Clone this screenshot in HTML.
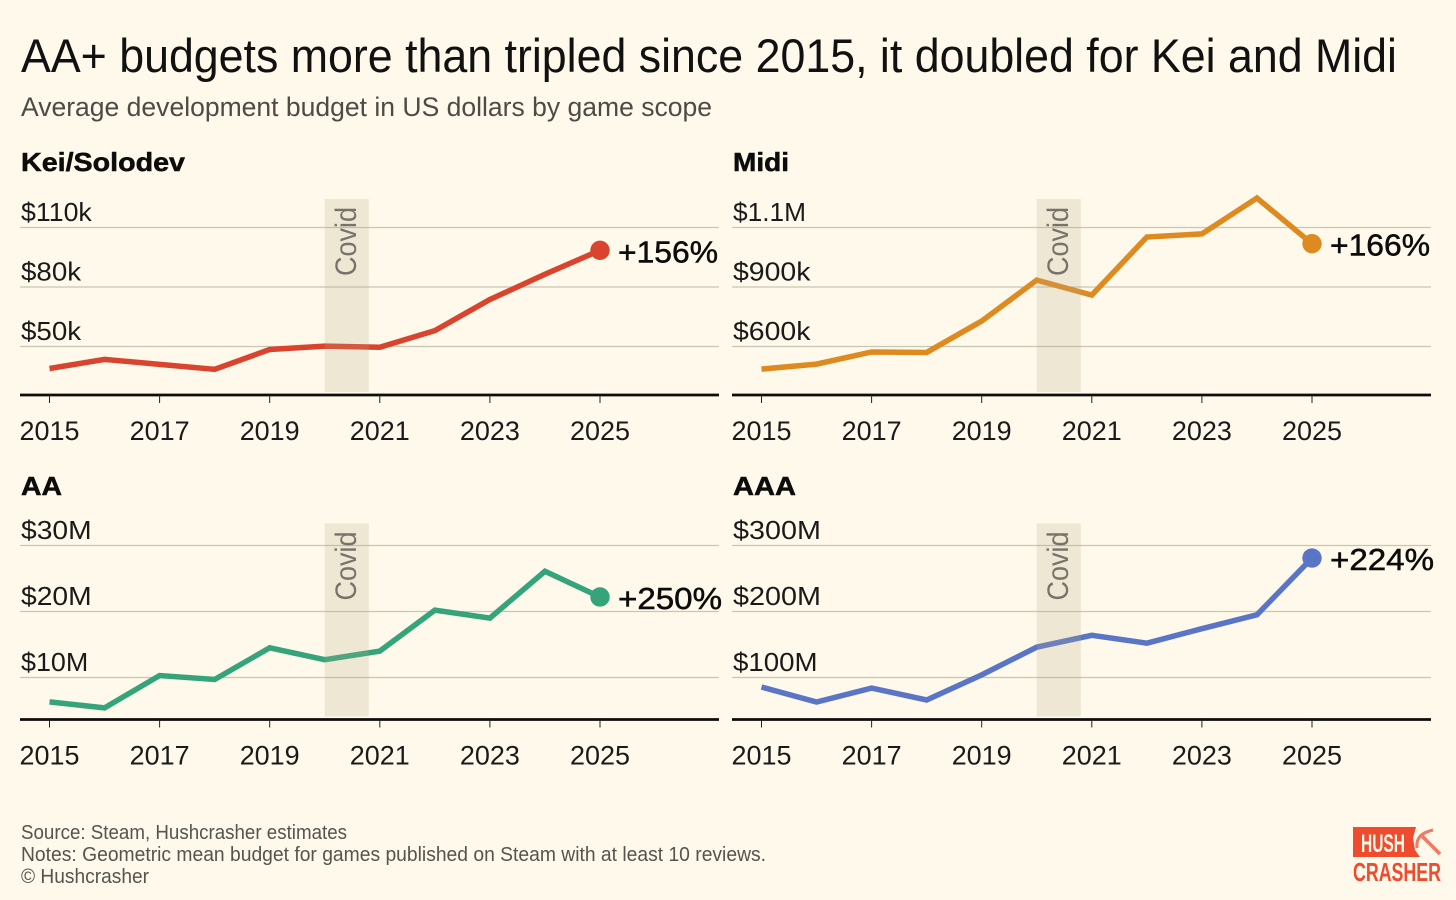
<!DOCTYPE html>
<html lang="en">
<head>
<meta charset="utf-8">
<title>AA+ budgets more than tripled since 2015</title>
<style>
html,body{margin:0;padding:0;background:#fef9ea;}
body{width:1456px;height:900px;overflow:hidden;}
svg{display:block;font-family:"Liberation Sans",sans-serif;}
</style>
</head>
<body>
<svg id="chart" xmlns="http://www.w3.org/2000/svg" width="1456" height="900" viewBox="0 0 1456 900">
  <rect x="0" y="0" width="1456" height="900" fill="#fef9ea"/>
  <text x="21" y="72" font-size="47" fill="#111" textLength="1376" lengthAdjust="spacingAndGlyphs">AA+ budgets more than tripled since 2015, it doubled for Kei and Midi</text>
  <text x="21" y="116" font-size="27" fill="#4c4b45" textLength="691" lengthAdjust="spacingAndGlyphs">Average development budget in US dollars by game scope</text>
  <g id="panels"></g>
  <text x="21" y="839" font-size="20" fill="#55544e" textLength="326" lengthAdjust="spacingAndGlyphs">Source: Steam, Hushcrasher estimates</text>
  <text x="21" y="861" font-size="20" fill="#55544e" textLength="745" lengthAdjust="spacingAndGlyphs">Notes: Geometric mean budget for games published on Steam with at least 10 reviews.</text>
  <text x="21" y="883" font-size="20" fill="#55544e" textLength="128" lengthAdjust="spacingAndGlyphs">© Hushcrasher</text>
  <g>
    <path d="M1353 827 H1416 L1413 838 L1415 850 L1420 857 H1353 Z" fill="#ef4b2e"/>
    <text x="1361" y="852" font-size="25" font-weight="700" fill="#fef9ea" textLength="44" lengthAdjust="spacingAndGlyphs">HUSH</text>
    <text x="1353" y="881" font-size="26" font-weight="700" fill="#ef4b2e" textLength="88" lengthAdjust="spacingAndGlyphs">CRASHER</text>
    <path d="M1422 836 L1440 854" stroke="#f07a62" stroke-width="3.5" fill="none"/>
    <path d="M1417 848 Q1415 834 1433 830" stroke="#f07a62" stroke-width="3" fill="none"/>
  </g>
</svg>
<script>
const years = [2015, 2016, 2017, 2018, 2019, 2020, 2021, 2022, 2023, 2024, 2025];
const axisYears = [2015, 2017, 2019, 2021, 2023, 2025];
const covidStart = 2020;
const covidEnd = 2020.8;

const keiValues = [38.9, 43.5, 41, 38.5, 48.5, 50.2, 49.6, 58, 73.7, 86.4, 98.5];
const midiValues = [505, 526, 577, 575, 707, 879, 816, 1060, 1073, 1224, 1032];
const aaValues = [6.3, 5.4, 10.3, 9.7, 14.5, 12.7, 14, 20.2, 19, 26.1, 22.2];
const aaaValues = [85.6, 62.9, 84, 66, 104, 146, 164, 152, 174, 195, 281];

const keiTicks = [50, 80, 110];
const midiTicks = [600, 850, 1100];
const aaTicks = [10, 20, 30];
const aaaTicks = [100, 200, 300];

const keiTickLabels = ['$50k', '$80k', '$110k'];
const midiTickLabels = ['$600k', '$900k', '$1.1M'];
const aaTickLabels = ['$10M', '$20M', '$30M'];
const aaaTickLabels = ['$100M', '$200M', '$300M'];

const panelTitles = ['Kei/Solodev', 'Midi', 'AA', 'AAA'];
const changeLabels = ['+156%', '+166%', '+250%', '+224%'];

const NS = 'http://www.w3.org/2000/svg';
const root = document.getElementById('panels');
const YEAR_STEP = 55.05;
const glyphWidths = {'$': 12.5, '1': 14, 'k': 13, 'M': 23.5, '.': 9};

function make(tag, attrs, parent) {
  const el = document.createElementNS(NS, tag);
  for (const key in attrs) el.setAttribute(key, attrs[key]);
  parent.appendChild(el);
  return el;
}
function labelWidth(label) {
  let w = 0;
  for (const ch of label) w += (ch in glyphWidths) ? glyphWidths[ch] : 17.3;
  return w;
}

function drawPanel(cfg) {
  const g = make('g', {}, root);
  
  

  const xScale = function (year) { return cfg.x0 + (year - years[0]) * YEAR_STEP; };
  const tickMin = cfg.ticks[0];
  const tickMax = cfg.ticks[cfg.ticks.length - 1];
  const yScale = function (v) {
    return cfg.gridTop + (tickMax - v) * (cfg.gridBottom - cfg.gridTop) / (tickMax - tickMin);
  };

  const title = make('text', {x: cfg.left + 1, y: cfg.titleY, 'font-size': 26, 'font-weight': 700, fill: '#0c0c0c', stroke: '#0c0c0c', 'stroke-width': 0.5, textLength: cfg.titleWidth, lengthAdjust: 'spacingAndGlyphs'}, g);
  title.textContent = cfg.title;
  
  

  cfg.ticks.forEach(function (tick, i) {
    const y = yScale(tick);
    const grid = make('line', {x1: cfg.left, x2: cfg.left + 699, y1: y, y2: y, stroke: '#c9c6b4', 'stroke-width': 1.2}, g);
    
    

    const label = make('text', {x: cfg.left + 1, y: y - cfg.labelGap, 'font-size': 26, fill: '#1a1a1a', textLength: labelWidth(cfg.tickLabels[i]), lengthAdjust: 'spacingAndGlyphs'}, g);
    label.textContent = cfg.tickLabels[i];
    
    
  });

  const points = cfg.values.map(function (v, i) { return xScale(years[i]) + ',' + yScale(v); }).join(' ');
  const line = make('polyline', {points: points, fill: 'none', stroke: cfg.color, 'stroke-width': 5.5, 'stroke-linejoin': 'miter'}, g);
  
  

  const band = make('rect', {x: xScale(covidStart), y: cfg.baseline - 196, width: xScale(covidEnd) - xScale(covidStart), height: 193, fill: '#b5a888', 'fill-opacity': 0.22}, g);
  
  

  const bandX = xScale(covidStart) + 31;
  const bandY = cfg.baseline - 119;
  const covid = make('text', {x: 0, y: 0, transform: 'translate(' + bandX + ' ' + bandY + ') rotate(-90)', 'font-size': 30, fill: '#77736a', textLength: 69, lengthAdjust: 'spacingAndGlyphs'}, g);
  covid.textContent = 'Covid';
  
  

  const axis = make('line', {x1: cfg.left, x2: cfg.left + 699, y1: cfg.baseline, y2: cfg.baseline, stroke: '#0d0d0d', 'stroke-width': 2.8}, g);
  
  

  axisYears.forEach(function (year) {
    const x = xScale(year);
    const tick = make('line', {x1: x, x2: x, y1: cfg.baseline, y2: cfg.baseline + 8, stroke: '#222', 'stroke-width': 1}, g);
    
    

    const label = make('text', {x: x - 30, y: cfg.baseline + 45, 'font-size': 27, fill: '#1a1a1a', textLength: 60, lengthAdjust: 'spacingAndGlyphs'}, g);
    label.textContent = String(year);
    
    
  });

  const lastIndex = cfg.values.length - 1;
  const endX = xScale(years[lastIndex]);
  const endY = yScale(cfg.values[lastIndex]);
  const dot = make('circle', {cx: endX, cy: endY, r: 9.7, fill: cfg.color}, g);
  
  

  const change = make('text', {x: endX + 18, y: endY + 12, 'font-size': 31, fill: '#0c0c0c', stroke: '#0c0c0c', 'stroke-width': 0.5, textLength: cfg.changeWidth, lengthAdjust: 'spacingAndGlyphs'}, g);
  change.textContent = cfg.change;
  
  
}

drawPanel({slug: 'kei', title: panelTitles[0], titleWidth: 164, titleY: 171, left: 20, x0: 49.5, gridTop: 227.5, gridBottom: 346.5, baseline: 395, labelGap: 6.5, values: keiValues, ticks: keiTicks, tickLabels: keiTickLabels, color: '#d9442e', change: changeLabels[0], changeWidth: 100});
drawPanel({slug: 'midi', title: panelTitles[1], titleWidth: 56, titleY: 171, left: 732, x0: 761.5, gridTop: 227.5, gridBottom: 346.5, baseline: 395, labelGap: 6.5, values: midiValues, ticks: midiTicks, tickLabels: midiTickLabels, color: '#dd8a20', change: changeLabels[1], changeWidth: 100});
drawPanel({slug: 'aa', title: panelTitles[2], titleWidth: 41, titleY: 495, left: 20, x0: 49.5, gridTop: 545.5, gridBottom: 677.5, baseline: 719.5, labelGap: 6.5, values: aaValues, ticks: aaTicks, tickLabels: aaTickLabels, color: '#35a47a', change: changeLabels[2], changeWidth: 104});
drawPanel({slug: 'aaa', title: panelTitles[3], titleWidth: 63, titleY: 495, left: 732, x0: 761.5, gridTop: 545.5, gridBottom: 677.5, baseline: 719.5, labelGap: 6.5, values: aaaValues, ticks: aaaTicks, tickLabels: aaaTickLabels, color: '#5b75c6', change: changeLabels[3], changeWidth: 104});
</script>
</body>
</html>
